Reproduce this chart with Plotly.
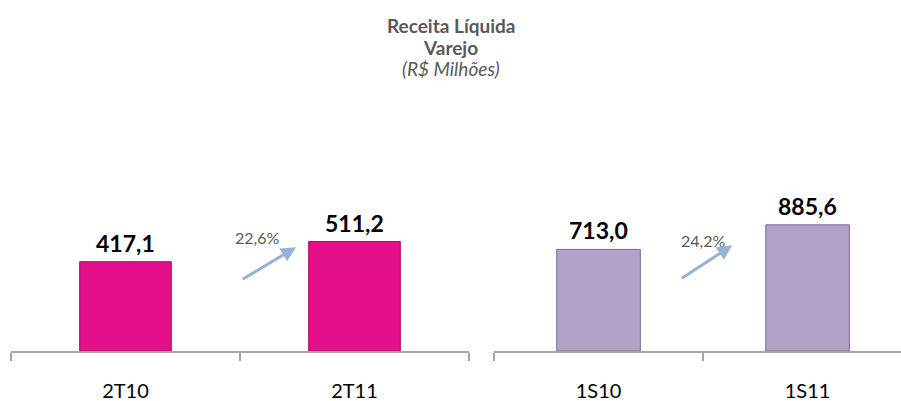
import plotly.graph_objects as go

# Data
quarter_labels = ["2T10", "2T11"]
quarter_values = [417.1, 511.2]
semester_labels = ["1S10", "1S11"]
semester_values = [713.0, 885.6]

title_lines = ["Receita Líquida", "Varejo", "(R$ Milhões)"]

FONT = "Lato"
MAGENTA = "#E40F8A"
MAGENTA_EDGE = "#A80A66"
LAVENDER = "#B3A2C8"
LAVENDER_EDGE = "#7F6A99"
AXIS_GRAY = "#A6A6A6"
TEXT_GRAY = "#595959"
ARROW_BLUE = "#95B3D7"

PLOT_TOP = 130
PLOT_BOTTOM = 351


def fmt(v):
    return f"{v:.1f}".replace(".", ",")


def pct(a, b):
    return f"{(b / a - 1) * 100:.1f}".replace(".", ",") + "%"


def paper_y(py):
    return (PLOT_BOTTOM - py) / (PLOT_BOTTOM - PLOT_TOP)


fig = go.Figure()

fig.add_trace(go.Bar(
    x=quarter_labels, y=quarter_values, xaxis="x", yaxis="y",
    width=0.4,
    marker=dict(color=MAGENTA, line=dict(color=MAGENTA_EDGE, width=1)),
    hoverinfo="skip", showlegend=False,
))
fig.add_trace(go.Bar(
    x=semester_labels, y=semester_values, xaxis="x2", yaxis="y2",
    width=0.4,
    marker=dict(color=LAVENDER, line=dict(color=LAVENDER_EDGE, width=1)),
    hoverinfo="skip", showlegend=False,
))

annotations = []

# title lines
title_styles = [("<b>", "</b>", 26), ("<b>", "</b>", 47), ("<i>", "</i>", 68)]
for line, (o, c, py) in zip(title_lines, title_styles):
    annotations.append(dict(
        x=0.5, y=paper_y(py), xref="paper", yref="paper", text=f"{o}{line}{c}",
        showarrow=False, xanchor="center", yanchor="middle",
        font=dict(family=FONT, size=19, color=TEXT_GRAY),
    ))

# value labels
for labels, values, xr, yr in [(quarter_labels, quarter_values, "x", "y"),
                               (semester_labels, semester_values, "x2", "y2")]:
    for c, v in zip(labels, values):
        annotations.append(dict(
            x=c, y=v, xref=xr, yref=yr, text=f"<b>{fmt(v)}</b>",
            showarrow=False, yanchor="bottom", yshift=3,
            font=dict(family=FONT, size=23, color="#000000"),
        ))

# growth labels
annotations.append(dict(
    x=0.5, y=quarter_values[0], xref="x", yref="y",
    text=pct(quarter_values[0], quarter_values[1]),
    showarrow=False, yanchor="middle", xanchor="center", yshift=24, xshift=17,
    font=dict(family=FONT, size=16, color=TEXT_GRAY),
))
annotations.append(dict(
    x=0.5, y=semester_values[0], xref="x2", yref="y2",
    text=pct(semester_values[0], semester_values[1]),
    showarrow=False, yanchor="middle", xanchor="center", yshift=9, xshift=0,
    font=dict(family=FONT, size=16, color=TEXT_GRAY),
))

# arrows (pixel offsets from head)
annotations.append(dict(
    x=0.745, y=485, xref="x", yref="y", ax=-55, ay=33, axref="pixel", ayref="pixel",
    text="", showarrow=True, arrowhead=2, arrowsize=1.0, arrowwidth=3,
    arrowcolor=ARROW_BLUE, standoff=0,
))
annotations.append(dict(
    x=0.64, y=742, xref="x2", yref="y2", ax=-52, ay=34, axref="pixel", ayref="pixel",
    text="", showarrow=True, arrowhead=2, arrowsize=1.0, arrowwidth=3,
    arrowcolor=ARROW_BLUE, standoff=0,
))

axis_common = dict(
    type="category", showline=True, linecolor=AXIS_GRAY, linewidth=1.5,
    ticks="outside", tickson="boundaries", ticklen=8, tickcolor=AXIS_GRAY,
    tickwidth=1.5, showgrid=False, zeroline=False, fixedrange=True,
    tickfont=dict(family=FONT, size=20, color="#000000"),
    ticklabelstandoff=21,
)

fig.update_layout(
    width=901, height=401,
    margin=dict(l=0, r=0, t=PLOT_TOP, b=401 - PLOT_BOTTOM, autoexpand=False),
    paper_bgcolor="white", plot_bgcolor="white",
    font=dict(family=FONT),
    xaxis=dict(domain=[11 / 901, 469 / 901], range=[-0.5, 1.5], anchor="y", **axis_common),
    xaxis2=dict(domain=[494 / 901, 1.0], range=[-0.5, 1.447], anchor="y2", **axis_common),
    yaxis=dict(domain=[0, 1], range=[0, 1032], visible=False, fixedrange=True, anchor="x"),
    yaxis2=dict(domain=[0, 1], range=[0, 1551], visible=False, fixedrange=True, anchor="x2"),
    annotations=annotations,
)

fig.write_html(
    "out.html",
    config={"displayModeBar": False},
    post_script="document.body.style.margin='0';document.body.style.padding='0';"
                "document.documentElement.style.overflow='hidden';",
)
